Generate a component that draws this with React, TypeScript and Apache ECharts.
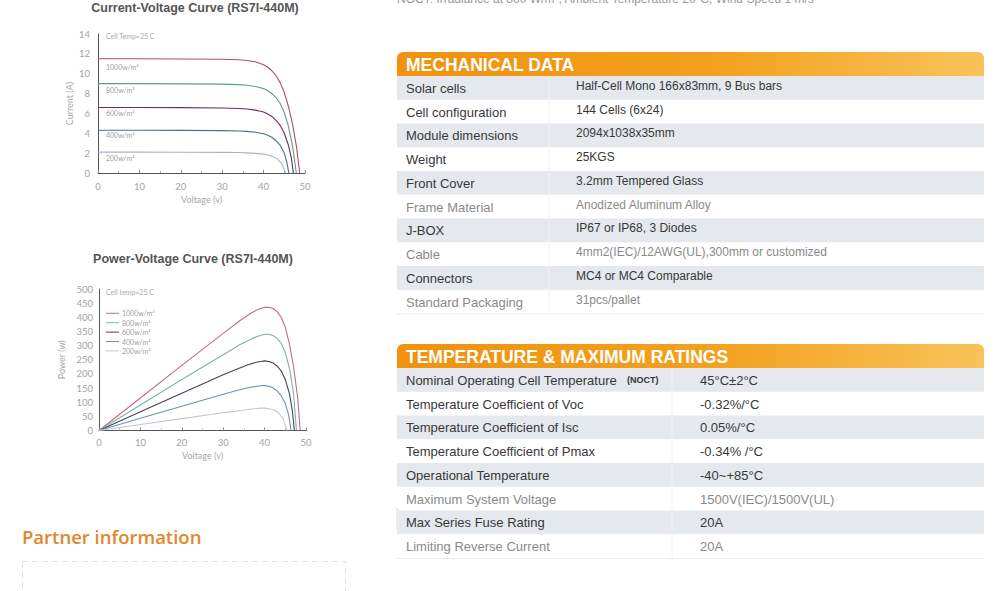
import React, { useEffect, useRef } from "react";
import * as echarts from "echarts";

// ---------- I-V curve data (voltage V, current A) ----------
const irradianceNames = ["1000w/m²", "800w/m²", "600w/m²", "400w/m²", "200w/m²"];

const ivVoltage1000 = [0, 10, 20, 30, 34, 36, 38, 40, 41, 42, 43, 44, 45, 46, 47, 48, 48.7];
const ivCurrent1000 = [11.5, 11.5, 11.48, 11.45, 11.4, 11.33, 11.2, 10.9, 10.65, 10.3, 9.8, 9.1, 8.1, 6.7, 4.9, 2.5, 0];
const ivVoltage800 = [0, 10, 20, 30, 34, 36, 38, 39, 40, 41, 42, 43, 44, 45, 46, 47, 47.9];
const ivCurrent800 = [9.0, 9.0, 8.98, 8.95, 8.9, 8.84, 8.72, 8.62, 8.5, 8.28, 8.0, 7.6, 7.0, 6.1, 4.7, 2.7, 0];
const ivVoltage600 = [0, 10, 20, 30, 34, 36, 38, 39, 40, 41, 42, 43, 44, 45, 46, 46.7, 47.2];
const ivCurrent600 = [6.6, 6.6, 6.58, 6.55, 6.5, 6.44, 6.33, 6.25, 6.15, 5.95, 5.7, 5.3, 4.8, 4.0, 2.8, 1.5, 0];
const ivVoltage400 = [0, 10, 20, 30, 34, 36, 38, 39, 40, 41, 42, 43, 44, 45, 45.6, 46.1];
const ivCurrent400 = [4.3, 4.3, 4.29, 4.27, 4.23, 4.19, 4.1, 4.03, 3.95, 3.8, 3.6, 3.25, 2.8, 2.0, 1.1, 0];
const ivVoltage200 = [0, 10, 20, 30, 34, 36, 38, 40, 41, 42, 43, 43.5, 44, 44.5, 45.3];
const ivCurrent200 = [2.1, 2.1, 2.09, 2.08, 2.06, 2.03, 1.98, 1.9, 1.82, 1.7, 1.5, 1.35, 1.12, 0.85, 0];

// ---------- P-V curve data (voltage V, power W) ----------
const pvVoltage1000 = [0, 10, 20, 30, 34, 36, 38, 39, 40, 41, 42, 43, 44, 45, 46, 47, 48, 48.6];
const pvPower1000 = [0, 115, 230, 343, 388, 408, 425, 431, 435, 435, 432, 420, 400, 365, 305, 225, 115, 0];
const pvVoltage800 = [0, 10, 20, 30, 34, 36, 38, 39, 40, 41, 42, 43, 44, 45, 46, 47, 47.7];
const pvPower800 = [0, 90, 180, 268, 303, 318, 331, 336, 340, 340, 336, 326, 308, 275, 220, 130, 0];
const pvVoltage600 = [0, 10, 20, 30, 34, 36, 38, 39, 40, 41, 42, 43, 44, 45, 46, 46.7, 47.2];
const pvPower600 = [0, 66, 132, 197, 221, 232, 241, 244, 246, 244, 239, 228, 211, 180, 130, 70, 0];
const pvVoltage400 = [0, 10, 20, 30, 34, 36, 38, 39, 40, 41, 42, 43, 44, 45, 45.8, 46.4];
const pvPower400 = [0, 43, 86, 128, 144, 151, 156, 158, 159, 156, 151, 140, 123, 95, 55, 0];
const pvVoltage200 = [0, 10, 20, 30, 34, 36, 38, 39, 40, 41, 42, 43, 43.5, 44.5, 45.4];
const pvPower200 = [0, 21, 42, 63, 70, 74, 78, 79, 79, 77, 74, 66, 60, 40, 0];

// ---------- tables ----------
const mechLabels = [
  "Solar cells", "Cell configuration", "Module dimensions", "Weight", "Front Cover",
  "Frame Material", "J-BOX", "Cable", "Connectors", "Standard Packaging",
];
const mechValues = [
  "Half-Cell Mono 166x83mm, 9 Bus bars", "144 Cells (6x24)", "2094x1038x35mm", "25KGS",
  "3.2mm Tempered Glass", "Anodized Aluminum Alloy", "IP67 or IP68, 3 Diodes",
  "4mm2(IEC)/12AWG(UL),300mm or customized", "MC4 or MC4 Comparable", "31pcs/pallet",
];
const mechLight = [false, false, false, false, false, true, false, true, false, true];

const tempLabels = [
  "Nominal Operating Cell Temperature", "Temperature Coefficient of Voc",
  "Temperature Coefficient of Isc", "Temperature Coefficient of Pmax",
  "Operational Temperature", "Maximum System Voltage", "Max Series Fuse Rating",
  "Limiting Reverse Current",
];
const tempValues = [
  "45°C±2°C", "-0.32%/°C", "0.05%/°C", "-0.34% /°C", "-40~+85°C",
  "1500V(IEC)/1500V(UL)", "20A", "20A",
];
const tempLight = [false, false, false, false, false, true, false, true];

const ivColors = ["#b24a6a", "#5f9f7e", "#6b2d63", "#4f6e8b", "#aab2c6"];
const pvColors = ["#c46d82", "#7bb5a5", "#4a3f5e", "#6f93ad", "#c8c4d6"];

const pairs = (xs: number[], ys: number[]) => xs.map((x, i) => [x, ys[i]]);

const TF = "'Liberation Sans', Arial, sans-serif";
const CF = "Lato, 'Open Sans', sans-serif";

export default function App() {
  const ref = useRef<HTMLDivElement>(null);

  useEffect(() => {
    if (!ref.current) return;
    const chart = echarts.init(ref.current, null, { renderer: "svg" });

    const ivData = [
      pairs(ivVoltage1000, ivCurrent1000),
      pairs(ivVoltage800, ivCurrent800),
      pairs(ivVoltage600, ivCurrent600),
      pairs(ivVoltage400, ivCurrent400),
      pairs(ivVoltage200, ivCurrent200),
    ];
    const pvData = [
      pairs(pvVoltage1000, pvPower1000),
      pairs(pvVoltage800, pvPower800),
      pairs(pvVoltage600, pvPower600),
      pairs(pvVoltage400, pvPower400),
      pairs(pvVoltage200, pvPower200),
    ];

    const axisLabel = { color: "#a4a4a4", fontSize: 9.5, fontFamily: CF };
    const axisName = { color: "#a8a8a8", fontSize: 9, fontFamily: CF };
    const axisLine = { show: true, lineStyle: { color: "#555", width: 1 } };

    const xAxisBase = (gridIndex: number, gap: number, margin: number) => ({
      type: "value",
      gridIndex,
      min: 0,
      max: 50,
      interval: 10,
      name: "Voltage (v)",
      nameLocation: "middle",
      nameGap: gap,
      nameTextStyle: axisName,
      axisLine,
      axisTick: { show: true, inside: true, length: 3, lineStyle: { color: "#888" } },
      minorTick: { show: true, splitNumber: 2, length: 2, lineStyle: { color: "#aaa" } },
      axisLabel: { ...axisLabel, margin },
      splitLine: { show: false },
    });

    const series: any[] = [];
    ivData.forEach((d, i) =>
      series.push({
        type: "line",
        name: "IV " + irradianceNames[i],
        xAxisIndex: 0,
        yAxisIndex: 0,
        data: d,
        showSymbol: false,
        smooth: false,
        silent: true,
        lineStyle: { color: ivColors[i], width: 1.1, join: "round" },
        itemStyle: { color: ivColors[i] },
      })
    );
    pvData.forEach((d, i) =>
      series.push({
        type: "line",
        name: "PV " + irradianceNames[i],
        xAxisIndex: 1,
        yAxisIndex: 1,
        data: d,
        showSymbol: false,
        smooth: false,
        silent: true,
        lineStyle: { color: pvColors[i], width: 1.1, join: "round" },
        itemStyle: { color: pvColors[i] },
      })
    );

    const g: any[] = [];
    const text = (x: number, y: number, t: string, o: any = {}) =>
      g.push({
        type: "text",
        x,
        y,
        silent: true,
        style: {
          text: t,
          fill: o.fill || "#333",
          fontSize: o.size || 12,
          fontWeight: o.weight || "normal",
          fontFamily: o.family || TF,
          align: o.align || "left",
          verticalAlign: o.va || "middle",
        },
        z: 10,
      });

    // top text (cut off by the page edge in the reference)
    text(397, 5, "NOCT: Irradiance at 800 W/m², Ambient Temperature 20°C, Wind Speed 1 m/s", {
      fill: "#9a9a9a", size: 12, va: "bottom",
    });

    // chart titles
    text(195, 8, "Current-Voltage Curve (RS7I-440M)", { fill: "#555", size: 12.5, weight: "bold", align: "center" });
    text(193, 259, "Power-Voltage Curve (RS7I-440M)", { fill: "#555", size: 12.5, weight: "bold", align: "center" });

    // IV annotations
    text(106, 36, "Cell Temp=25 C", { fill: "#aaa", size: 7, family: CF });
    const ivLabelY = [67, 90, 113, 135, 158];
    irradianceNames.forEach((n, i) => text(106, ivLabelY[i], n, { fill: "#a0a0a0", size: 7, family: CF }));

    // PV legend
    text(106, 292, "Cell temp=25 C", { fill: "#aaa", size: 7, family: CF });
    irradianceNames.forEach((n, i) => {
      const y = 313.3 + i * 9.4;
      g.push({
        type: "line",
        silent: true,
        shape: { x1: 106, y1: y, x2: 119, y2: y },
        style: { stroke: pvColors[i], lineWidth: 1 },
        z: 10,
      });
      text(122, y, n, { fill: "#a0a0a0", size: 7, family: CF });
    });

    // table helper
    const drawTable = (
      top: number,
      title: string,
      labels: string[],
      values: string[],
      light: boolean[],
      divX: number,
      valX: number,
      labelSize: number,
      valueSize: number,
      valueDy: number
    ) => {
      const left = 397;
      const right = 984;
      const headerH = 24;
      const rowH = 23.75;
      g.push({
        type: "rect",
        silent: true,
        shape: { x: left, y: top, width: right - left, height: headerH, r: [6, 6, 0, 0] },
        style: {
          fill: new echarts.graphic.LinearGradient(0, 0, 1, 0, [
            { offset: 0, color: "#f0920e" },
            { offset: 0.55, color: "#f3a11f" },
            { offset: 1, color: "#f8c35a" },
          ]),
        },
        z: 5,
      });
      text(left + 9, top + headerH / 2 + 0.5, title, {
        fill: "#fff", size: 17.5, weight: "bold",
      });
      const rowTop = top + headerH;
      labels.forEach((l, i) => {
        const y = rowTop + i * rowH;
        if (i % 2 === 0) {
          g.push({
            type: "rect",
            silent: true,
            shape: { x: left, y, width: right - left, height: rowH },
            style: { fill: "#e5e8ed" },
            z: 5,
          });
        }
        const c = light[i] ? "#8a8a8a" : "#383838";
        text(left + 9, y + rowH / 2 + 0.5, l, { fill: c, size: labelSize });
        text(valX, y + rowH / 2 + valueDy, values[i], { fill: c, size: valueSize });
      });
      const bottom = rowTop + labels.length * rowH;
      g.push({
        type: "line",
        silent: true,
        shape: { x1: divX, y1: rowTop, x2: divX, y2: bottom },
        style: { stroke: "#f1f2f4", lineWidth: 1 },
        z: 6,
      });
      g.push({
        type: "line",
        silent: true,
        shape: { x1: left, y1: bottom + 0.5, x2: right, y2: bottom + 0.5 },
        style: { stroke: "#ececec", lineWidth: 1 },
        z: 6,
      });
    };

    drawTable(52, "MECHANICAL DATA", mechLabels, mechValues, mechLight, 549, 576, 13, 12, -2);
    drawTable(344, "TEMPERATURE & MAXIMUM RATINGS", tempLabels, tempValues, tempLight, 672, 700, 13, 13, 0.5);
    text(627, 368 + 23.75 / 2 + 0.5, "(NOCT)", { fill: "#333", size: 9, weight: "bold" });

    // partner information
    text(22, 536, "Partner information", {
      fill: "#e3862b", size: 18.5, weight: 600, family: "'Open Sans', sans-serif",
    });
    g.push({
      type: "rect",
      silent: true,
      shape: { x: 22.5, y: 561.5, width: 323, height: 60 },
      style: { fill: "none", stroke: "#dcdcdc", lineWidth: 1, lineDash: [5, 5] },
      z: 5,
    });
    g.push({
      type: "rect",
      silent: true,
      shape: { x: 396, y: 508, width: 3, height: 22 },
      style: { fill: "#ececec" },
      z: 5,
    });

    chart.setOption({
      animation: false,
      backgroundColor: "#fff",
      grid: [
        { left: 98, top: 34, width: 207, height: 139, containLabel: false },
        { left: 99, top: 289, width: 207, height: 141.5, containLabel: false },
      ],
      xAxis: [xAxisBase(0, 22, 8), xAxisBase(1, 20, 7)],
      yAxis: [
        {
          type: "value",
          gridIndex: 0,
          min: 0,
          max: 14,
          interval: 2,
          name: "Current (A)",
          nameLocation: "middle",
          nameGap: 24,
          nameTextStyle: axisName,
          axisLine,
          axisTick: { show: false },
          axisLabel: { ...axisLabel, margin: 8 },
          splitLine: { show: false },
        },
        {
          type: "value",
          gridIndex: 1,
          min: 0,
          max: 500,
          interval: 50,
          name: "Power (w)",
          nameLocation: "middle",
          nameGap: 33,
          nameTextStyle: axisName,
          axisLine,
          axisTick: { show: false },
          axisLabel: { ...axisLabel, margin: 6 },
          splitLine: { show: false },
        },
      ],
      series,
      graphic: { elements: g },
    });

    return () => chart.dispose();
  }, []);

  return (
    <div
      ref={ref}
      style={{ position: "absolute", left: 0, top: 0, width: 1000, height: 591 }}
    />
  );
}
